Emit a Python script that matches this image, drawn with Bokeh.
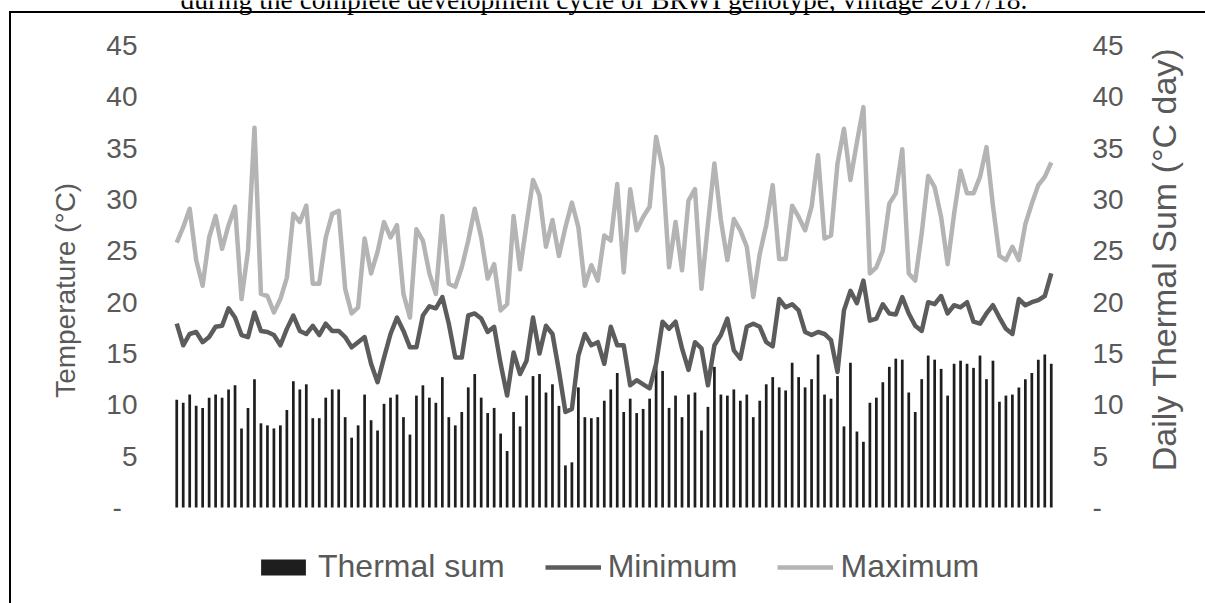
from bokeh.plotting import figure
from bokeh.layouts import row
from bokeh.models import (Range1d, LinearAxis, FixedTicker, CustomJSTickFormatter,
                          Legend, LegendItem, Label, ColumnDataSource, InlineStyleSheet)
from bokeh.embed import file_html
from bokeh.resources import INLINE

# Daily series over the development cycle (day index 1..136)
days = list(range(1, 137))

thermal_sum = [
    10.5, 10.2, 11.0, 9.9, 9.7, 10.7, 11.0, 10.7, 11.5, 11.9, 7.7, 9.7, 12.5, 8.2, 8.0, 7.7,
    8.0, 9.5, 12.3, 11.5, 12.0, 8.7, 8.7, 10.7, 11.5, 11.5, 8.8, 6.8, 8.0, 11.0, 8.5, 7.5,
    10.1, 10.7, 11.0, 8.8, 7.1, 10.9,
    11.9, 10.7, 10.2, 12.7, 8.8, 8.0, 9.3, 11.7, 13.0, 10.7, 9.2, 9.7, 7.2, 5.5, 9.3, 7.9,
    10.9, 12.8, 13.0, 11.2, 12.0, 9.9, 4.1, 4.4, 11.7, 8.8, 8.7, 8.8, 10.4, 11.5, 13.1, 9.3,
    10.6, 9.2, 9.6, 10.6,
    14.1, 13.3, 9.7, 10.9, 8.8, 11.0, 11.2, 7.5, 9.8, 13.7, 11.0, 10.9, 11.5, 10.4, 11.0, 8.8,
    10.4, 12.0, 12.7, 11.7, 11.4, 14.1, 12.7, 11.7, 12.5, 14.9, 11.0, 10.6, 12.8, 7.9, 14.1, 7.4,
    6.4, 10.2, 10.7, 12.2, 13.7, 14.5,
    14.4, 11.2, 9.3, 12.5, 14.8, 14.4, 13.5, 10.9, 14.0, 14.3, 14.0, 13.6, 14.8, 12.5, 14.3, 10.3,
    10.9, 11.0, 11.7, 12.5, 13.1, 14.4, 14.9, 14.0,
]

t_min = [
    17.9, 15.8, 16.9, 17.1, 16.1, 16.6, 17.6, 17.7, 19.4, 18.5, 16.8, 16.6, 19.0, 17.2, 17.1, 16.8,
    15.8, 17.4, 18.7, 17.2, 16.9, 17.7, 16.8, 17.9, 17.2, 17.2, 16.6, 15.6, 16.1, 16.6, 14.0, 12.2,
    14.6, 16.9, 18.5, 17.2, 15.6, 15.6,
    18.7, 19.6, 19.4, 20.5, 17.9, 14.6, 14.6, 18.7, 18.9, 18.4, 17.1, 17.6, 14.0, 10.9, 15.1, 13.0,
    14.3, 18.5, 15.0, 17.7, 16.9, 13.3, 9.3, 9.6, 14.8, 16.9, 15.8, 16.1, 14.0, 17.6, 15.8, 15.8,
    11.9, 12.4, 12.0, 11.6, 14.0,
    18.1, 17.4, 18.1, 15.5, 13.4, 16.1, 15.5, 11.9, 15.8, 16.8, 18.4, 15.3, 14.5, 17.6, 17.9, 17.6,
    16.1, 15.7, 20.3, 19.5, 19.8, 19.2, 17.1, 16.8, 17.1, 16.9, 16.3, 13.2, 19.2, 21.1, 19.9, 22.1,
    18.2, 18.4, 19.8, 18.9, 18.8,
    20.5, 18.9, 17.7, 17.2, 20.0, 19.8, 20.6, 18.9, 19.7, 19.5, 20.0, 18.1, 17.9, 18.9, 19.7, 18.5,
    17.4, 16.9, 20.3, 19.7, 20.0, 20.2, 20.6, 22.8,
]

t_max = [
    25.8, 27.3, 29.1, 24.1, 21.6, 26.3, 28.4, 25.2, 27.5, 29.3, 20.3, 25.0, 37.0, 20.8, 20.6, 19.0,
    20.3, 22.4, 28.6, 27.8, 29.4, 21.8, 21.8, 26.3, 28.6, 28.9, 21.3, 18.9, 19.5, 26.2, 22.8, 24.9,
    27.8, 26.3, 27.5, 20.8, 18.5, 27.1,
    26.0, 22.8, 20.8, 28.4, 21.8, 21.5, 23.4, 26.0, 29.1, 26.3, 22.3, 23.7, 19.2, 19.8, 28.4, 23.2,
    27.6, 31.9, 30.4, 25.4, 28.0, 24.5, 27.3, 29.7, 27.3, 21.6, 23.6, 22.1, 26.5, 26.0, 31.5, 22.9,
    31.0, 27.0, 28.3, 29.3, 36.1,
    33.1, 23.4, 27.8, 23.1, 29.9, 31.0, 21.3, 27.6, 33.5, 28.0, 24.1, 28.1, 27.0, 25.4, 20.5, 24.7,
    27.5, 31.4, 24.2, 24.2, 29.4, 28.3, 27.0, 29.3, 34.3, 26.2, 26.5, 33.5, 36.9, 31.9, 35.6, 39.0,
    22.8, 23.4, 25.0, 29.6, 30.6,
    34.9, 22.8, 22.1, 26.7, 32.3, 31.2, 28.3, 23.7, 28.6, 32.8, 30.6, 30.6, 32.2, 35.1, 29.4, 24.5,
    24.1, 25.4, 24.1, 27.6, 29.6, 31.4, 32.2, 33.6,
]

y_ticks = [0, 5, 10, 15, 20, 25, 30, 35, 40, 45]

caption_text = "during the complete development cycle of BRWI genotype, vintage 2017/18."
left_title = "Temperature (°C)"
right_title = "Daily Thermal Sum (°C day)"

TEXT_GRAY = "#595959"
FONT = "Liberation Sans"
NBSP = "\u00a0"

MAIN_W = 1140
SIDE_W = 1205 - MAIN_W
H = 603
# Pixel rows of the value 45 and of the zero line; the frame spans the full height
Y45_PX, Y0_PX = 45, 507
PPU = (Y0_PX - Y45_PX) / 45.0
Y_LO = -(H - Y0_PX) / PPU
Y_HI = 45 + Y45_PX / PPU

src = ColumnDataSource(dict(day=days, ts=thermal_sum, tmin=t_min, tmax=t_max))

p = figure(width=MAIN_W, height=H, output_backend="svg", toolbar_location=None,
           x_range=Range1d(0.5, len(days) + 0.5), y_range=Range1d(Y_LO, Y_HI),
           x_axis_location=None,
           min_border_left=173, min_border_right=MAIN_W - 1054,
           min_border_top=0, min_border_bottom=0,
           background_fill_color="white", border_fill_color="white",
           outline_line_color=None)
p.extra_y_ranges = {"ts": Range1d(Y_LO, Y_HI)}
p.xgrid.grid_line_color = None
p.ygrid.grid_line_color = None

# Bars: daily thermal sum on the secondary axis
r_bar = p.vbar(x="day", top="ts", bottom=0, width=0.42, source=src, y_range_name="ts",
               fill_color="#1e1e1e", line_color=None)
# Lines: daily maximum and minimum temperature
r_max = p.line("day", "tmax", source=src, line_color="#b4b4b4", line_width=4.5,
               line_join="round")
r_min = p.line("day", "tmin", source=src, line_color="#5c5c5c", line_width=4.5,
               line_join="round")


def style_axis(ax):
    ax.ticker = FixedTicker(ticks=y_ticks)
    ax.axis_line_color = None
    ax.major_tick_line_color = None
    ax.minor_tick_line_color = None
    ax.major_tick_out = 0
    ax.major_tick_in = 0
    ax.major_label_text_font = FONT
    ax.major_label_text_font_size = "28px"
    ax.major_label_text_color = TEXT_GRAY
    ax.axis_label_text_font = FONT
    ax.axis_label_text_font_style = "normal"
    ax.axis_label_text_color = TEXT_GRAY


left = p.yaxis[0]
style_axis(left)
left.formatter = CustomJSTickFormatter(
    code="return tick == 0 ? '-\u00a0\u00a0' : String(tick);")
left.major_label_standoff = 36
left.axis_label = NBSP * 3 + left_title
left.axis_label_text_font_size = "28px"
left.axis_label_standoff = 22

right = LinearAxis(y_range_name="ts")
style_axis(right)
right.formatter = CustomJSTickFormatter(
    code="return tick == 0 ? '-' : String(tick);")
right.major_label_standoff = 38
p.add_layout(right, "right")

# Series key under the bars
legend = Legend(items=[LegendItem(label="Thermal sum", renderers=[r_bar]),
                       LegendItem(label="Minimum", renderers=[r_min]),
                       LegendItem(label="Maximum", renderers=[r_max])],
                location=(82, 18), orientation="horizontal",
                border_line_color=None, background_fill_alpha=0,
                padding=0, margin=0, spacing=40, label_standoff=7,
                glyph_width=56, glyph_height=20, label_height=36,
                label_text_font=FONT, label_text_font_size="32px",
                label_text_color=TEXT_GRAY)
p.add_layout(legend)

# Caption line running off the top edge
p.add_layout(Label(x=7, y=H + 1, x_units="screen", y_units="screen",
                   text=caption_text, text_align="left", text_baseline="alphabetic",
                   text_font="Liberation Serif", text_font_size="27.5px",
                   text_color="black"))

# Narrow companion figure carrying the secondary-axis title
p2 = figure(width=SIDE_W, height=H, output_backend="svg", toolbar_location=None,
            x_range=Range1d(0, 1), y_range=Range1d(0, 1), x_axis_location=None,
            min_border_left=44, min_border_right=0,
            min_border_top=0, min_border_bottom=0,
            background_fill_color="white", border_fill_color="white",
            outline_line_color=None)
p2.xgrid.grid_line_color = None
p2.ygrid.grid_line_color = None
ax2 = p2.yaxis[0]
ax2.ticker = FixedTicker(ticks=[])
ax2.axis_line_color = None
ax2.major_tick_line_color = None
ax2.minor_tick_line_color = None
ax2.major_tick_out = 0
ax2.major_label_text_font_size = "0px"
ax2.major_label_standoff = 0
ax2.axis_label = NBSP * 9 + right_title
ax2.axis_label_text_font = FONT
ax2.axis_label_text_font_style = "normal"
ax2.axis_label_text_font_size = "34px"
ax2.axis_label_text_color = TEXT_GRAY
ax2.axis_label_standoff = 2

layout = row(p, p2)
# Chart-area border along the left and top edges
layout.stylesheets = [InlineStyleSheet(css="""
:host { position: relative; }
:host::after {
  content: ""; position: absolute; left: 9px; top: 11px; right: 0; bottom: 0;
  border-left: 2px solid #000; border-top: 2px solid #000;
  pointer-events: none; z-index: 10;
}
""")]

open("out.html", "w").write(file_html(layout, INLINE))
